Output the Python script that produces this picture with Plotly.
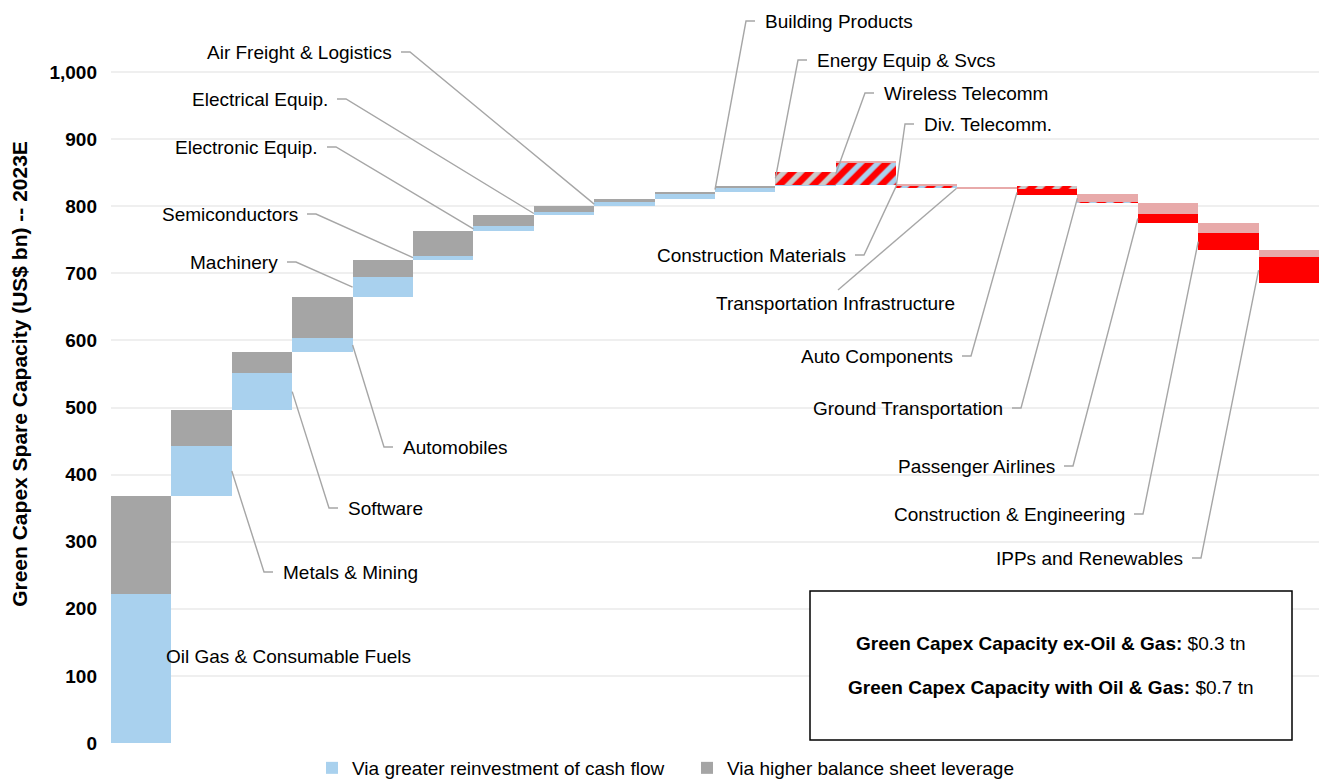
import numpy as np
import plotly.graph_objects as go

# ---------------- data (US$ bn, 2023E) ----------------
categories = ["Oil Gas & Consumable Fuels", "Metals & Mining", "Software", "Automobiles",
              "Machinery", "Semiconductors", "Electronic Equip.", "Electrical Equip.",
              "Air Freight & Logistics", "Building Products", "Energy Equip & Svcs",
              "Wireless Telecomm", "Div. Telecomm.", "Construction Materials",
              "Transportation Infrastructure", "Auto Components", "Ground Transportation",
              "Passenger Airlines", "Construction & Engineering", "IPPs and Renewables"]

# positive contributions
reinvest_up = [222, 74.5, 55, 22, 30.4, 6, 7.5, 4.5, 5.5, 7.5, 6.5, 1.5, 0, 0, 0, 0, 0, 0, 0, 0]
leverage_up = [146, 53.7, 31, 60, 25.8, 36, 17, 9, 4.5, 3.5, 2.5, 0, 0, 0, 0, 0, 0, 0, 0, 0]
# positive contributions fully offset by negatives (hatched)
reinvest_offset = [0, 0, 0, 0, 0, 0, 0, 0, 0, 0, 0, 0, 34.5, 2.5, 0, 0, 1.5, 0, 0, 0]
leverage_offset = [0, 0, 0, 0, 0, 0, 0, 0, 0, 0, 0, 19, 0, 0, 0, 5, 0, 0, 0, 0]
# negative contributions
reinvest_down = [0, 0, 0, 0, 0, 0, 0, 0, 0, 0, 0, 0, 0.8, 2.5, 3.5, 0, 11, 17, 15, 10.5]
leverage_down = [0, 0, 0, 0, 0, 0, 0, 0, 0, 0, 0, 0, 0, 0, 0, 9, 0, 13, 26, 38]

y_ticks = [0, 100, 200, 300, 400, 500, 600, 700, 800, 900, 1000]

# ---------------- waterfall geometry ----------------
blue = np.array(reinvest_up, float)
gray = np.array(leverage_up, float)
hrb = np.array(reinvest_offset, float)
hrg = np.array(leverage_offset, float)
pink = np.array(reinvest_down, float)
red = np.array(leverage_down, float)

n = len(categories)
xs = np.arange(n)
bottoms = np.zeros(n)
end_prev = 0.0
for i in range(n):
    pos = blue[i] + gray[i] + hrb[i] + hrg[i]
    neg = pink[i] + red[i] + hrb[i] + hrg[i]
    top = end_prev + pos
    total = red[i] + hrb[i] + blue[i] + hrg[i] + gray[i] + pink[i]
    bottoms[i] = top - total
    end_prev = top - neg

BLUE = "#A9D1EE"
GRAY = "#A5A5A5"
LGRAY = "#CBCBCB"
PINK = "#E8AAAA"
RED = "#FF0000"
hatch = dict(shape="/", fgcolor=RED, size=12, solidity=0.55, fgopacity=1)
segments = [  # stacking order bottom -> top
    ("Reduction (leverage)", red, dict(color=RED), False),
    ("Offset (reinvestment)", hrb, dict(color=BLUE, pattern=dict(hatch, bgcolor=BLUE)), False),
    ("Via greater reinvestment of cash flow", blue, dict(color=BLUE), True),
    ("Offset (leverage)", hrg, dict(color=LGRAY, pattern=dict(hatch, bgcolor=LGRAY)), False),
    ("Via higher balance sheet leverage", gray, dict(color=GRAY), True),
    ("Reduction (reinvestment)", pink, dict(color=PINK), False),
]

FONT = "Liberation Sans, Arial, sans-serif"
fig = go.Figure()
running = bottoms.copy()
seg_bases = []
for name, h, mk, show in segments:
    mk = dict(mk)
    mk["line"] = dict(width=0)
    fig.add_trace(go.Bar(x=xs, y=h, base=running.copy(), name=name, marker=mk,
                         showlegend=show, hoverinfo="skip", width=1.0))
    seg_bases.append((running.copy(), h))
    running = running + h

# ---------------- layout geometry (pixels) ----------------
W, H = 1319, 780
L, R, T, B = 111, 1319, 5, 743          # plot area
PX_PER_UNIT = (743 - 72) / 1000.0
YMAX = (B - T) / PX_PER_UNIT


def dx(px):
    return (px - L) / (R - L) * n - 0.5


def dy(py):
    return (B - py) / PX_PER_UNIT


def anchor_y(j):
    # middle of the first visible segment of bar j
    for base, h in seg_bases:
        if h[j] > 1.5:
            return base[j] + h[j] / 2
    return bottoms[j]


# label layout: (text, xanchor, text_px_x, text_px_y, target_bar, target_edge)
labels = [
    ("Metals & Mining", "left", 281, 572, 1, 0.5),
    ("Software", "left", 346, 508, 2, 0.5),
    ("Automobiles", "left", 401, 447, 3, 0.5),
    ("Machinery", "right", 280, 262, 4, -0.5),
    ("Semiconductors", "right", 300, 214, 5, -0.5),
    ("Electronic Equip.", "right", 320, 147, 6, -0.5),
    ("Electrical Equip.", "right", 330, 99, 7, -0.5),
    ("Air Freight & Logistics", "right", 394, 52, 8, -0.5),
    ("Building Products", "left", 763, 21, 10, -0.5),
    ("Energy Equip & Svcs", "left", 815, 60, 11, -0.5),
    ("Wireless Telecomm", "left", 882, 93, 12, -0.5),
    ("Div. Telecomm.", "left", 922, 124, 13, -0.5),
    ("Construction Materials", "right", 848, 255, 13, -0.5),
    ("Auto Components", "right", 955, 356, 15, -0.5),
    ("Ground Transportation", "right", 1005, 408, 16, -0.5),
    ("Passenger Airlines", "right", 1057, 466, 17, -0.5),
    ("Construction & Engineering", "right", 1127, 514, 18, -0.5),
    ("IPPs and Renewables", "right", 1185, 558, 19, -0.5),
]

TXT = dict(size=19, family=FONT, color="#000000")
lx, ly = [], []
annotations = []
for text, anc, px, py, j, e in labels:
    annotations.append(dict(x=dx(px), y=dy(py), xref="x", yref="y", text=text, showarrow=False,
                            xanchor=anc, yanchor="middle", font=TXT))
    if anc == "left":
        near, far = px - 8, px - 17
    else:
        near, far = px + 7, px + 16
    lx += [dx(near), dx(far), j + e, None]
    ly += [dy(py), dy(py), anchor_y(j), None]

# Transportation Infrastructure: leader from the top of the text
annotations.append(dict(x=dx(957), y=dy(303), xref="x", yref="y", text="Transportation Infrastructure",
                        showarrow=False, xanchor="right", yanchor="middle", font=TXT))
lx += [dx(838), 14 - 0.5, None]
ly += [dy(290), anchor_y(14), None]

# Oil Gas label (no leader)
annotations.append(dict(x=dx(164), y=dy(656), xref="x", yref="y", text="Oil Gas & Consumable Fuels",
                        showarrow=False, xanchor="left", yanchor="middle", font=TXT))

fig.add_trace(go.Scatter(x=lx, y=ly, mode="lines", line=dict(color="#A6A6A6", width=1.4),
                         showlegend=False, hoverinfo="skip", cliponaxis=False))

# summary box
ex_og = (end_prev - (blue[0] + gray[0])) / 1000
with_og = end_prev / 1000
annotations.append(dict(x=dx(1051), y=dy(643), xref="x", yref="y",
                        text=f"<b>Green Capex Capacity ex-Oil &amp; Gas:</b> ${ex_og:.1f} tn",
                        showarrow=False, xanchor="center", yanchor="middle", font=TXT))
annotations.append(dict(x=dx(1051), y=dy(687), xref="x", yref="y",
                        text=f"<b>Green Capex Capacity with Oil &amp; Gas:</b> ${with_og:.1f} tn",
                        showarrow=False, xanchor="center", yanchor="middle", font=TXT))

fig.update_layout(
    width=W, height=H,
    margin=dict(l=L, r=W - R, t=T, b=H - B, autoexpand=False),
    paper_bgcolor="white", plot_bgcolor="white",
    barmode="overlay", bargap=0,
    font=dict(family=FONT, size=19, color="#000000"),
    annotations=annotations,
    shapes=[dict(type="rect", xref="x", yref="y", x0=dx(810), x1=dx(1292), y0=dy(740), y1=dy(591),
                 line=dict(color="#000000", width=1.5), fillcolor="white", layer="above")],
    legend=dict(orientation="h", xref="container", yref="container",
                x=312 / W, xanchor="left", y=1 - 768 / H, yanchor="middle", entrywidth=330,
                font=TXT, bgcolor="rgba(0,0,0,0)"),
    xaxis=dict(range=[-0.5, n - 0.5], visible=False),
    yaxis=dict(range=[0, YMAX], tickmode="array", tickvals=y_ticks,
               ticktext=[f"{v:,}" for v in y_ticks],
               tickfont=dict(size=19, family=FONT, color="#000000", weight="bold"),
               showgrid=True, gridcolor="#EFEFEF", gridwidth=1.5, zeroline=False,
               showline=False, ticks="", ticklabelstandoff=13,
               title=dict(text="Green Capex Spare Capacity (US$ bn) -- 2023E", standoff=16,
                          font=dict(size=21, family=FONT, color="#000000", weight="bold"))),
)

# remove the page's default body margin so the 1319x780 figure fills the window exactly
fig.write_html("out.html", config={"displayModeBar": False},
               post_script="document.body.style.margin='0';document.body.style.overflow='hidden';")
